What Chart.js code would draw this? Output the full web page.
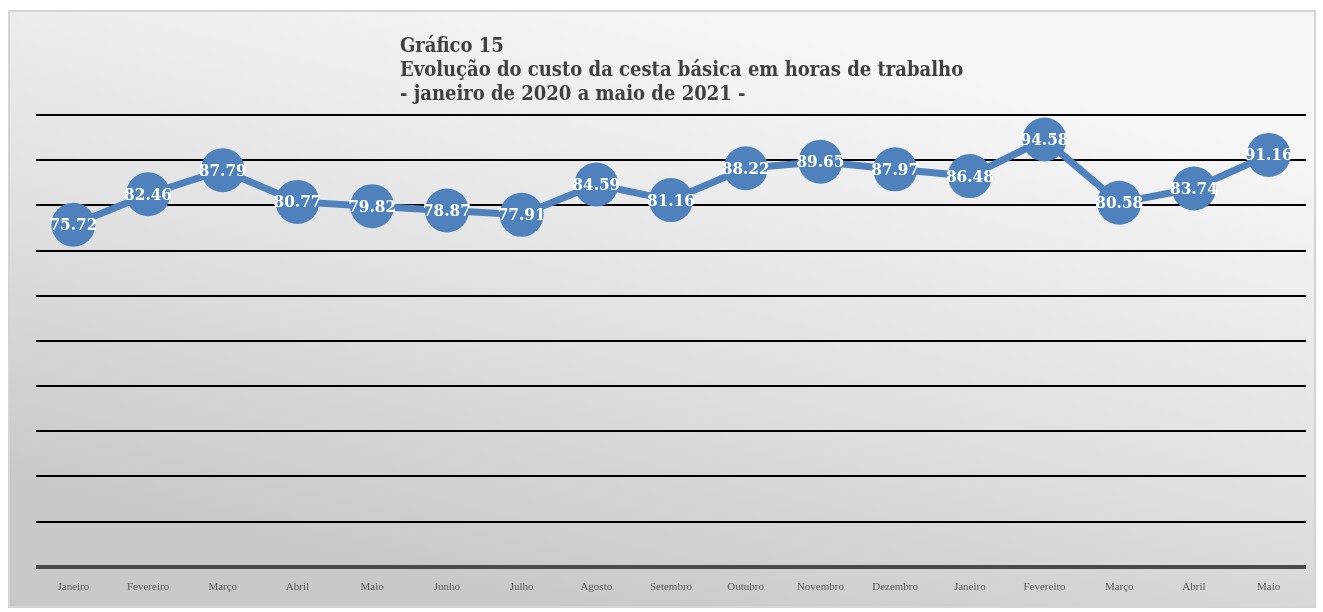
<!DOCTYPE html>
<html>
<head>
<meta charset="utf-8">
<script src="https://cdn.jsdelivr.net/npm/chart.js@4"></script>
<style>
  html, body { margin: 0; padding: 0; background: #fff; overflow: hidden; }
  #wrap { position: relative; width: 1323px; height: 612px; }
</style>
</head>
<body>
<div id="wrap"><canvas id="chart"></canvas></div>
<script>
// -------------------------------
// Data
// -------------------------------
const months = [
  "Janeiro", "Fevereiro", "Março", "Abril", "Maio", "Junho", "Julho",
  "Agosto", "Setembro", "Outubro", "Novembro", "Dezembro",
  "Janeiro", "Fevereiro", "Março", "Abril", "Maio"
];
const horas = [
  75.72, 82.46, 87.79, 80.77, 79.82, 78.87, 77.91, 84.59, 81.16,
  88.22, 89.65, 87.97, 86.48, 94.58, 80.58, 83.74, 91.16
];
const titleLines = [
  "Gráfico 15",
  "Evolução do custo da cesta básica em horas de trabalho",
  "- janeiro de 2020 a maio de 2021 -"
];

const SERIF = "'DejaVu Serif Condensed', 'DejaVu Serif', serif";
const TICK_FONT = "'Liberation Serif', serif";

// -------------------------------
// Background panel + title
// -------------------------------
const panelPlugin = {
  id: "panel",
  beforeDraw(chart) {
    const ctx = chart.ctx;
    ctx.save();
    ctx.fillStyle = "#ffffff";
    ctx.fillRect(0, 0, chart.width, chart.height);
    const g = ctx.createLinearGradient(700, 11, 560, 607);
    g.addColorStop(0, "#f6f6f6");
    g.addColorStop(0.5, "#e3e3e3");
    g.addColorStop(1, "#c9c9c9");
    ctx.fillStyle = g;
    ctx.fillRect(9, 11, 1306, 596);
    ctx.strokeStyle = "#d4d4d4";
    ctx.lineWidth = 2;
    ctx.strokeRect(9, 11, 1306, 596);
    ctx.restore();
  },
  afterDraw(chart) {
    const ctx = chart.ctx;
    ctx.save();
    ctx.fillStyle = "#404040";
    ctx.font = "bold 20px " + SERIF;
    ctx.textBaseline = "alphabetic";
    ctx.textAlign = "left";
    titleLines.forEach((t, i) => ctx.fillText(t, 400, 52 + i * 24));
    ctx.restore();
  }
};

// -------------------------------
// Value labels on the markers
// -------------------------------
const labelPlugin = {
  id: "valueLabels",
  afterDatasetsDraw(chart) {
    const ctx = chart.ctx;
    const meta = chart.getDatasetMeta(0);
    ctx.save();
    ctx.fillStyle = "#ffffff";
    ctx.font = "bold 17px " + SERIF;
    ctx.textAlign = "center";
    ctx.textBaseline = "middle";
    meta.data.forEach((pt, i) => {
      ctx.fillText(horas[i].toFixed(2), pt.x, pt.y + 1);
    });
    ctx.restore();
  }
};

new Chart(document.getElementById("chart"), {
  type: "line",
  data: {
    labels: months,
    datasets: [
      {
        data: horas,
        borderColor: "#4f81bd",
        backgroundColor: "#4f81bd",
        borderWidth: 7,
        pointRadius: 22,
        pointHoverRadius: 22,
        pointBorderWidth: 0,
        pointBackgroundColor: "#4f81bd",
        tension: 0,
        clip: false,
      },
    ],
  },
  options: {
    responsive: true,
    maintainAspectRatio: false,
    animation: false,
    events: [],
    layout: {
      autoPadding: false,
      padding: { left: 36, right: 17, top: 115, bottom: 4 },
    },
    plugins: {
      legend: { display: false },
      title: { display: false },
      tooltip: { enabled: false },
    },
    scales: {
      x: {
        offset: true,
        grid: { display: false, drawTicks: false },
        border: { display: false },
        ticks: {
          color: "#595959",
          font: { family: TICK_FONT, size: 11 },
          padding: 14,
          maxRotation: 0,
          autoSkip: false,
        },
      },
      y: {
        min: 0,
        max: 100,
        ticks: { display: false, stepSize: 10 },
        border: { display: false },
        grid: {
          drawTicks: false,
          color: (c) => (c.tick && c.tick.value === 0 ? "#4a4a4a" : "#000000"),
          lineWidth: (c) => (c.tick && c.tick.value === 0 ? 4 : 2),
        },
      },
    },
  },
  plugins: [panelPlugin, labelPlugin],
});
</script>
</body>
</html>
